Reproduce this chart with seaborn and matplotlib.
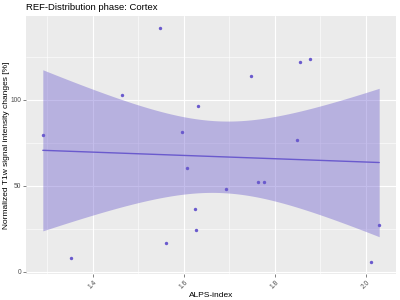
import numpy as np
import pandas as pd
import matplotlib
matplotlib.use("Agg")
import matplotlib.pyplot as plt
import seaborn as sns
from matplotlib.ticker import MultipleLocator

alps_index = [1.290, 1.353, 1.465, 1.548, 1.560, 1.596, 1.606, 1.624, 1.627, 1.631,
              1.692, 1.747, 1.763, 1.776, 1.848, 1.855, 1.877, 2.010, 2.029]
t1w_change = [79.5, 8.1, 103.1, 142.0, 17.0, 81.4, 60.6, 36.4, 24.6, 96.3,
              48.3, 113.6, 52.5, 52.5, 76.6, 121.9, 124.0, 5.6, 27.5]
x_ticks = [1.4, 1.6, 1.8, 2.0]
y_ticks = [0, 50, 100]

df = pd.DataFrame({"x": alps_index, "y": t1w_change})

sns.set_theme(style="darkgrid", rc={"axes.facecolor": "#EBEBEB",
                                     "grid.color": "white"})
plt.rcParams["font.family"] = ["Liberation Sans", "DejaVu Sans"]

fig = plt.figure(figsize=(4, 3), dpi=100)
ax = fig.add_axes([0.065, 0.087, 0.925, 0.86])

col = "#6A5ACD"

# analytic 95% confidence band of the linear fit (as in ggplot's geom_smooth(method="lm"))
x = np.asarray(alps_index, float)
y = np.asarray(t1w_change, float)
n = len(x)
b1, b0 = np.polyfit(x, y, 1)
resid = y - (b0 + b1 * x)
s = np.sqrt(np.sum(resid ** 2) / (n - 2))
sxx = np.sum((x - x.mean()) ** 2)
try:
    from scipy import stats
    tq = stats.t.ppf(0.975, n - 2)
except Exception:
    tq = 2.1098  # t(0.975, df=17)
xg = np.linspace(x.min(), x.max(), 200)
yg = b0 + b1 * xg
se = s * np.sqrt(1.0 / n + (xg - x.mean()) ** 2 / sxx)
ax.fill_between(xg, yg - tq * se, yg + tq * se, color=col, alpha=0.4,
                linewidth=0, zorder=2)

sns.regplot(data=df, x="x", y="y", ax=ax, ci=None, color=col, truncate=True,
            scatter_kws={"s": 6, "linewidths": 0, "alpha": 1, "zorder": 4},
            line_kws={"linewidth": 1.0, "zorder": 3})

xr = x.max() - x.min()
ax.set_xlim(x.min() - 0.05 * xr, x.max() + 0.05 * xr)
ylo, yhi = y.min(), y.max()
yr = yhi - ylo
ax.set_ylim(ylo - 0.05 * yr, yhi + 0.05 * yr)

ax.set_xticks(x_ticks)
ax.set_xticklabels([f"{v:.1f}" for v in x_ticks], rotation=45, ha="center", va="top")
ax.set_yticks(y_ticks)
ax.set_yticklabels([str(v) for v in y_ticks])
ax.xaxis.set_minor_locator(MultipleLocator(0.1))
ax.yaxis.set_minor_locator(MultipleLocator(25))
ax.grid(which="major", color="white", linewidth=0.8)
ax.grid(which="minor", color="white", linewidth=0.4)
ax.tick_params(axis="both", which="major", labelsize=4.8, colors="#4D4D4D",
               length=2, width=0.5, pad=1.5, left=True, bottom=True)
ax.tick_params(axis="both", which="minor", length=0)
for lab in ax.get_xticklabels() + ax.get_yticklabels():
    lab.set_color("#4D4D4D")
for sp in ax.spines.values():
    sp.set_visible(False)

ax.set_xlabel("ALPS-index", fontsize=6, color="black", labelpad=1.5)
ax.set_ylabel("Normalized T1w signal intensity changes [%]", fontsize=6,
              color="black", labelpad=2)
ax.yaxis.set_label_coords(-0.043, 0.5)
ax.set_title("REF-Distribution phase: Cortex", fontsize=6.8, loc="left",
             color="black", pad=4)

fig.savefig("out.png", dpi=100)
